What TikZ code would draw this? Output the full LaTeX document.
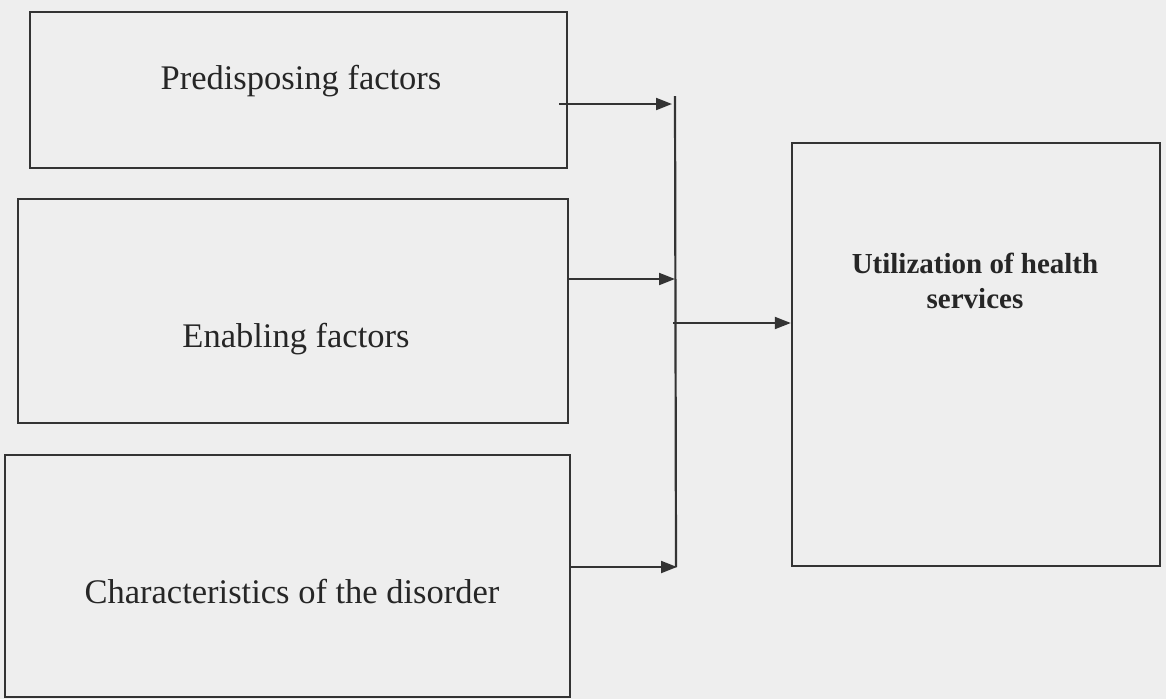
\documentclass[tikz,border=0pt]{standalone}
\usepackage{fontspec}
\setmainfont{Liberation Serif}
\usetikzlibrary{arrows.meta}
\definecolor{paper}{HTML}{EEEEEE}
\definecolor{ink}{HTML}{333333}
\definecolor{textink}{HTML}{262626}
\tikzset{
  box/.style={draw=ink, line width=2.4pt, rectangle, inner sep=0pt},
  arr/.style={draw=ink, line width=2pt, -{Triangle[length=16pt,width=12pt]}},
  bus/.style={draw=ink, line width=2.2pt},
  lbl/.style={text=textink, anchor=base, inner sep=0pt, font=\fontsize{34.5}{40}\selectfont},
  blbl/.style={text=textink, anchor=base, inner sep=0pt, font=\bfseries\fontsize{29}{35}\selectfont}
}
\begin{document}
\begin{tikzpicture}[x=1pt,y=-1pt]
\fill[paper] (0,0) rectangle (1166,699);
\useasboundingbox (0,0) rectangle (1166,699);
\node[box, minimum width=537pt, minimum height=156pt] (b1) at (298.5,90) {};
\node[box, minimum width=550pt, minimum height=224pt] (b2) at (293,311) {};
\node[box, minimum width=565pt, minimum height=242pt] (b3) at (287.5,576) {};
\node[box, minimum width=368pt, minimum height=423pt] (b4) at (976,354.5) {};
\node[lbl] (t1) at (301,89) {Predisposing factors};
\node[lbl] (t2) at (296,347) {Enabling factors};
\node[lbl] (t3) at (292,603) {Characteristics of the disorder};
\node[blbl] (t4a) at (975,273) {Utilization of health};
\node[blbl] (t4b) at (975,308) {services};
\coordinate (bt) at (675,96);
\coordinate (bb) at (676,567);
\coordinate (j1) at (672,104);
\coordinate (j2) at (675,279);
\coordinate (j3) at (673,323);
\coordinate (j4) at (677,567);
\draw[bus] (bt) -- (bb);
\draw[arr] (b1.east |- j1) ++(-9,0) -- (j1);
\draw[arr] (b2.east |- j2) -- (j2);
\draw[arr] (b3.east |- j4) -- (j4);
\draw[arr] (j3) -- (j3 -| b4.west);
\end{tikzpicture}
\end{document}
